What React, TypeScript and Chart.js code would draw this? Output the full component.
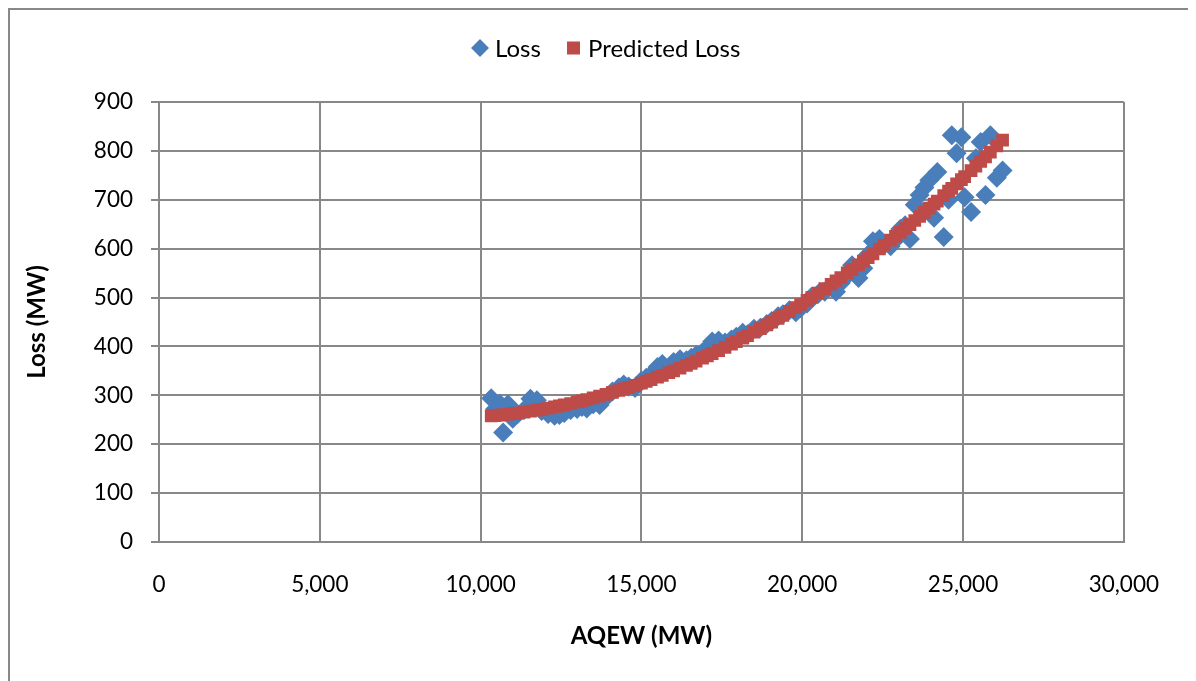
import React, { useEffect, useRef } from "react";
import { Chart, registerables } from "chart.js";

Chart.register(...registerables);

// AQEW (MW) for each observation
const aqew = [
  10330, 10450, 10600, 10700, 10850, 11000, 11150, 11350, 11550, 11750, 11900,
  12100, 12300, 12450, 12600, 12800, 13000, 13150, 13300, 13500, 13700, 13900,
  14100, 14300, 14450, 14600, 14800, 15000, 15150, 15300, 15500, 15650, 15850,
  16000, 16200, 16400, 16550, 16700, 16900, 17050, 17200, 17400, 17600, 17800, 17950,
  18150, 18300, 18500, 18700, 18900, 19050, 19250, 19400, 19600, 19800, 19950,
  20150, 20300, 20500, 20700, 20900, 21050, 21200, 21400, 21550, 21750, 21900,
  22050, 22200, 22400, 22550, 22750, 22900, 23050, 23200, 23350, 23500, 23650, 23800, 23950,
  24100, 24200, 24400, 24550, 24650, 24800, 24950, 25050, 25250, 25400, 25550, 25700, 25850, 26050, 26230,
];

// Observed loss (MW)
const loss = [
  294, 272, 283, 224, 282, 252, 262, 270, 293, 290, 268,
  262, 258, 260, 264, 270, 272, 276, 273, 282, 280, 296,
  308, 316, 322, 318, 315, 330, 336, 342, 358, 364, 356,
  368, 374, 372, 377, 382, 388, 396, 410, 412, 408, 414, 420,
  428, 425, 436, 438, 446, 452, 462, 466, 474, 470, 478,
  488, 502, 508, 512, 522, 512, 530, 545, 566, 540, 560,
  588, 615, 620, 608, 605, 618, 640, 648, 620, 690, 710, 725, 740,
  663, 757, 624, 700, 832, 795, 828, 705, 675, 785, 818, 710, 832, 745, 760,
];

// Predicted loss (MW)
const predictedLoss = [
  258.0, 258.7, 259.6, 260.3, 261.4, 262.6, 263.8, 265.7, 267.6, 269.7, 271.4,
  273.8, 276.3, 278.4, 280.4, 283.3, 286.4, 288.8, 291.3, 294.7, 298.3, 302.0,
  305.9, 309.9, 313.0, 316.2, 320.6, 325.2, 328.7, 332.3, 337.3, 341.0, 346.2,
  350.2, 355.7, 361.3, 365.6, 370.0, 376.0, 380.6, 385.2, 391.6, 398.1, 404.8, 409.9,
  416.8, 422.1, 429.2, 436.6, 444.1, 449.8, 457.5, 463.4, 471.4, 479.6, 485.8,
  494.2, 500.6, 509.3, 518.2, 527.2, 534.0, 540.9, 550.3, 557.4, 567.0, 574.3,
  581.7, 589.2, 599.3, 607.0, 617.4, 625.2, 633.2, 641.3, 649.4, 657.6, 665.9, 674.3, 682.8,
  691.3, 697.1, 708.7, 717.5, 723.4, 732.3, 741.4, 747.4, 759.7, 769.0, 778.3, 787.8, 797.3, 810.2, 821.9,
];

const xAxisTitle = "AQEW (MW)";
const yAxisTitle = "Loss (MW)";
const lossLabel = "Loss";
const predictedLabel = "Predicted Loss";

const BLUE = "#4A7EBB";
const RED = "#BE4B48";
const GRID = "#888888";
const FONT = "Lato, 'Open Sans', sans-serif";

const legendPlugin = {
  id: "customLegend",
  afterDraw(chart: any) {
    const ctx = chart.ctx as CanvasRenderingContext2D;
    const cy = 38;
    ctx.save();
    ctx.font = `24px ${FONT}`;
    ctx.textBaseline = "middle";
    // diamond marker
    const dx = 470;
    const r = 9;
    ctx.beginPath();
    ctx.moveTo(dx, cy - r);
    ctx.lineTo(dx + r, cy);
    ctx.lineTo(dx, cy + r);
    ctx.lineTo(dx - r, cy);
    ctx.closePath();
    ctx.fillStyle = BLUE;
    ctx.fill();
    ctx.fillStyle = "#000";
    ctx.fillText(chart.data.datasets[1].label, 485, cy + 1);
    // square marker
    ctx.fillStyle = RED;
    ctx.fillRect(557, cy - 6.5, 13, 13);
    ctx.fillStyle = "#000";
    ctx.fillText(chart.data.datasets[0].label, 578, cy + 1);
    ctx.restore();
  },
};

export default function App() {
  const ref = useRef<HTMLCanvasElement>(null);

  useEffect(() => {
    const chart = new Chart(ref.current as HTMLCanvasElement, {
      type: "scatter",
      data: {
        datasets: [
          {
            label: predictedLabel,
            data: aqew.map((x, i) => ({ x, y: predictedLoss[i] })),
            pointStyle: "rect",
            pointRadius: 9,
            pointHoverRadius: 9,
            backgroundColor: RED,
            borderColor: RED,
            borderWidth: 0,
            order: 0,
          },
          {
            label: lossLabel,
            data: aqew.map((x, i) => ({ x, y: loss[i] })),
            pointStyle: "rectRot",
            pointRadius: 10,
            pointHoverRadius: 10,
            backgroundColor: BLUE,
            borderColor: BLUE,
            borderWidth: 0,
            order: 1,
          },
        ],
      },
      options: {
        responsive: false,
        animation: false,
        layout: { padding: { top: 92, right: 57, left: 0, bottom: 0 } },
        plugins: {
          legend: { display: false },
          tooltip: { enabled: false },
        },
        scales: {
          x: {
            type: "linear",
            min: 0,
            max: 30000,
            ticks: {
              stepSize: 5000,
              callback: (v: any) => Number(v).toLocaleString("en-US"),
              color: "#000",
              font: { family: FONT, size: 22.5 },
              padding: 29,
              maxRotation: 0,
            },
            grid: { color: GRID, lineWidth: 2, drawTicks: false },
            border: { color: GRID, width: 2 },
            title: {
              display: true,
              text: xAxisTitle,
              color: "#000",
              font: { family: FONT, size: 24, weight: "bold" },
              padding: { top: 0, bottom: 30 },
            },
            afterFit: (s: any) => {
              s.height = 139;
            },
          },
          y: {
            type: "linear",
            min: 0,
            max: 900,
            ticks: {
              stepSize: 100,
              color: "#000",
              font: { family: FONT, size: 22.5 },
              padding: 18,
            },
            grid: { color: GRID, lineWidth: 2, drawTicks: true, tickLength: 8 },
            border: { color: GRID, width: 2 },
            title: {
              display: true,
              text: yAxisTitle,
              color: "#000",
              font: { family: FONT, size: 24, weight: "bold" },
              padding: { top: 13, bottom: 0 },
            },
            afterFit: (s: any) => {
              s.width = 149;
            },
          },
        },
      },
      plugins: [legendPlugin],
    } as any);
    return () => chart.destroy();
  }, []);

  return (
    <div
      style={{
        width: 1178,
        height: 671,
        borderTop: `2px solid ${GRID}`,
        borderLeft: `2px solid ${GRID}`,
        borderRight: `2px solid ${GRID}`,
        overflow: "hidden",
      }}
    >
      <canvas ref={ref} width={1178} height={671} style={{ display: "block" }} />
    </div>
  );
}
